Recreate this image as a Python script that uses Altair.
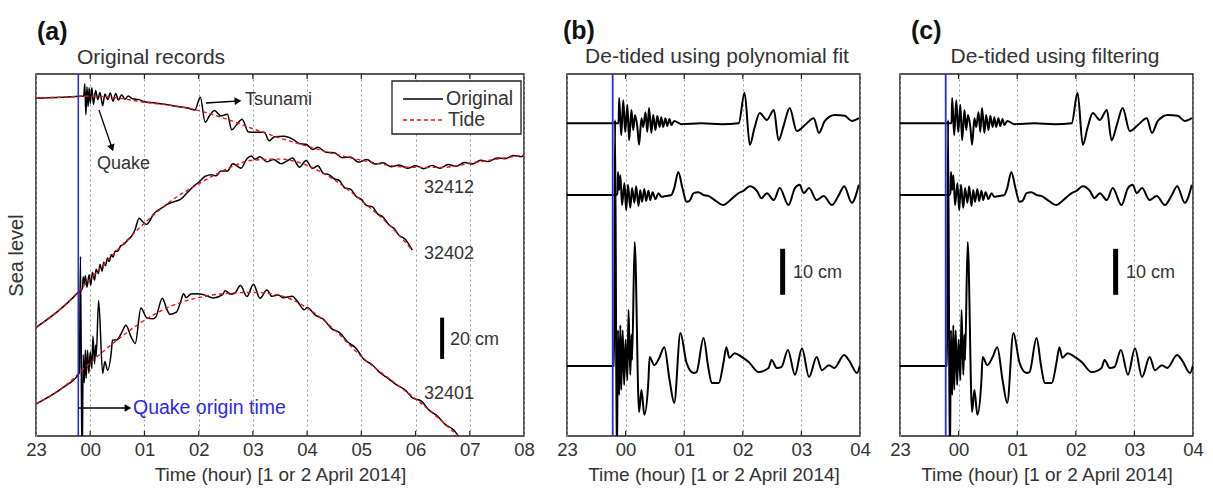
import altair as alt
import pandas as pd

FONT = "Liberation Sans"
INK = "#222222"
TXT = "#333333"
RED = "#e8141c"
BLUE = "#2a2ae6"

# ---------------- data (hours after 00:00 UTC 2 April; -1 = 23:00) ----------------
HOURS_A = [-1, 0, 1, 2, 3, 4, 5, 6, 7, 8]
HOURS_BC = [-1, 0, 1, 2, 3, 4]
QUAKE_T = -0.22

# panel (a): sea level (cm, stacked offsets)
A_32412_TIDE = [(-1, 167.6), (-0.5, 168), (0, 168.5), (0.5, 167.6), (1, 165.5), (1.5, 164), (2, 161.5),
                (2.5, 157.5), (3, 152.7), (3.5, 148.2), (4, 144.3), (4.5, 140.5), (5, 137.5), (5.5, 135),
                (6, 134), (6.5, 134), (7, 136), (7.5, 138), (8, 140)]
A_32412_ORIG = [(-1, 167.5), (-0.5, 168), (-0.2, 168.4), (-0.12, 168.5), (-0.10, 174.5), (-0.08, 159.5),
                (-0.06, 173), (-0.04, 163.5), (-0.02, 172.5), (0.0, 165), (0.03, 172.5), (0.06, 164.5),
                (0.10, 171.2), (0.14, 166.8), (0.18, 170.2), (0.23, 163.8), (0.27, 169.5), (0.32, 166.8),
                (0.37, 170), (0.42, 166), (0.47, 169.8), (0.52, 166.6), (0.58, 169.2), (0.64, 167),
                (0.70, 168.5), (0.78, 167.2), (0.9, 166.8), (1.0, 165.8), (1.2, 165.2), (1.4, 164.4),
                (1.6, 163.5), (1.8, 162.7), (1.93, 161.8), (2.03, 167.9), (2.12, 155.9), (2.20, 159),
                (2.29, 161.5), (2.41, 158.9), (2.53, 159.7), (2.61, 152.2), (2.70, 154.6), (2.80, 157.3),
                (2.92, 151.1), (3.06, 151), (3.21, 151), (3.30, 146.9), (3.40, 148.8), (3.57, 149.1),
                (3.74, 147.6), (3.86, 145.5), (3.98, 145.2), (4.1, 142.7), (4.2, 143.8), (4.35, 141.3),
                (4.5, 141.1), (4.65, 138.7), (4.8, 139), (4.95, 136.5), (5.1, 137.8), (5.25, 135.6),
                (5.4, 136.2), (5.55, 134.3), (5.7, 135.2), (5.85, 133.6), (6.0, 134.8), (6.15, 133.4),
                (6.3, 134.9), (6.45, 133.6), (6.6, 135.4), (6.75, 134.5), (6.9, 136.4), (7.05, 135.6),
                (7.2, 137.4), (7.35, 136.8), (7.5, 138.6), (7.65, 138.2), (7.8, 139.8), (7.95, 139.2),
                (8.0, 140)]
A_32402_TIDE = [(-1, 56.5), (-0.5, 66.5), (0, 80), (0.5, 94), (1, 107), (1.5, 118), (2, 126), (2.5, 133),
                (3, 137.5), (3.5, 138), (4, 135), (4.5, 128), (5, 118), (5.5, 106.5), (5.94, 94)]
A_32402_ORIG = [(-1, 56.5), (-0.5, 66.5), (-0.2, 74), (-0.14, 75.5), (-0.13, 81.1), (-0.11, 77.8),
                (-0.09, 81.6), (-0.06, 76), (-0.02, 82), (0.01, 77), (0.04, 83.3), (0.08, 79.5),
                (0.11, 84.7), (0.15, 82.6), (0.18, 87), (0.22, 83.8), (0.25, 88.1), (0.28, 86.4),
                (0.32, 90.2), (0.35, 88.4), (0.39, 91.8), (0.42, 90.6), (0.46, 93.5), (0.51, 93.4),
                (0.56, 96), (0.61, 96.6), (0.69, 98.8), (0.78, 101.3), (0.83, 104.1), (0.90, 109.4),
                (0.97, 107.7), (1.04, 106.4), (1.09, 107.8), (1.16, 111.1), (1.24, 113.1), (1.33, 114.5),
                (1.41, 116), (1.52, 117.2), (1.67, 118.6), (1.77, 121.2), (1.93, 125.4), (2.01, 127),
                (2.12, 129.7), (2.24, 130.4), (2.32, 129.9), (2.41, 132.2), (2.53, 132.2), (2.63, 135.8),
                (2.78, 133.6), (2.89, 138.2), (2.97, 139.5), (3.04, 137.9), (3.13, 139.1), (3.26, 136.7),
                (3.38, 137.8), (3.52, 135.8), (3.64, 137.3), (3.73, 138.5), (3.86, 134.1), (3.98, 137.3),
                (4.1, 133.5), (4.2, 134.8), (4.3, 131), (4.4, 130.5), (4.5, 128.5), (4.6, 127.5),
                (4.7, 124), (4.8, 123.5), (4.9, 120), (5.0, 118.5), (5.1, 115.5), (5.2, 115), (5.3, 111.5),
                (5.4, 110), (5.5, 106.5), (5.6, 104.5), (5.7, 101), (5.8, 99.5), (5.94, 94)]
A_32401_TIDE = [(-1, 19.5), (-0.5, 27.5), (0, 39.5), (0.5, 50.5), (1, 60), (1.5, 67), (2, 71), (2.5, 73),
                (3, 73.5), (3.5, 72), (4, 66), (4.5, 55.5), (5, 42.5), (5.5, 32), (6, 22), (6.5, 10.8),
                (6.8, 3.5)]
A_32401_ORIG = [(-1, 19.5), (-0.5, 27.5), (-0.2, 34.5), (-0.18, 91), (-0.15, -15), (-0.13, 43.4), (-0.11, 29.8),
                (-0.09, 45.6), (-0.075, 31.9), (-0.05, 45.5), (-0.025, 34.3), (0, 44.7), (0.03, 36.7),
                (0.05, 52.4), (0.08, 38.9), (0.10, 48.1), (0.11, 42.8), (0.155, 69.6), (0.23, 34.3),
                (0.27, 40), (0.32, 35.8), (0.39, 45), (0.41, 50.4), (0.49, 50.5), (0.575, 53.8),
                (0.66, 57.6), (0.75, 52.2), (0.83, 48.8), (0.935, 66), (1.04, 61.3), (1.16, 60.7),
                (1.21, 61.6), (1.33, 70.7), (1.41, 65.5), (1.47, 62.9), (1.59, 64), (1.67, 69.1),
                (1.72, 72.9), (1.77, 71), (1.86, 72.7), (1.98, 72.9), (2.10, 72.3), (2.27, 70.8),
                (2.44, 72.4), (2.49, 74.3), (2.58, 72.7), (2.66, 73), (2.77, 76.8), (2.89, 71.5),
                (3.01, 77.4), (3.13, 70.7), (3.26, 74.7), (3.35, 71.6), (3.47, 72.3), (3.56, 70.9),
                (3.73, 71.6), (3.81, 69.6), (3.95, 65.1), (4.0, 66.2), (4.15, 62.5), (4.3, 60.5),
                (4.45, 56), (4.6, 54), (4.75, 49.5), (4.9, 46.5), (5.05, 41), (5.2, 38.5), (5.35, 34.5),
                (5.5, 31.8), (5.65, 28.7), (5.8, 26.5), (5.95, 22.3), (6.1, 21), (6.25, 16.5), (6.4, 13.8),
                (6.55, 9.5), (6.7, 7), (6.85, 1.5)]

# panels (b) and (c): de-tided records (cm, stacked offsets)
B_32412 = [(-1, 68.0), (-0.5, 68.0), (-0.12, 68.0), (-0.11, 73.5), (-0.075, 65.4), (-0.04, 73.0),
           (-0.007, 66.1), (0.03, 72.0), (0.06, 64.3), (0.10, 70.9), (0.13, 66.5), (0.16, 69.8),
           (0.20, 67.2), (0.23, 63.3), (0.27, 69.1), (0.30, 67.2), (0.34, 70.4), (0.37, 66.1),
           (0.40, 71.3), (0.44, 65.9), (0.47, 69.8), (0.51, 66.5), (0.54, 69.6), (0.58, 67.2),
           (0.61, 69.3), (0.64, 67.2), (0.68, 69.1), (0.71, 67.4), (0.75, 68.9), (0.78, 67.6),
           (0.83, 68.5), (0.95, 67.8), (1.29, 68.0), (1.64, 67.8), (1.93, 68.0), (2.03, 74.6),
           (2.12, 63.3), (2.20, 67.0), (2.29, 70.2), (2.41, 68.7), (2.53, 70.9), (2.61, 64.3),
           (2.70, 67.6), (2.80, 71.3), (2.92, 66.3), (3.06, 67.6), (3.21, 69.1), (3.30, 65.9),
           (3.40, 68.5), (3.57, 69.8), (3.74, 69.6), (3.86, 68.5), (3.98, 69.1)]
B_32402 = [(-1, 52.4), (-0.5, 52.4), (-0.16, 52.4), (-0.14, 52.8), (-0.13, 57.4), (-0.11, 53.5),
           (-0.09, 56.7), (-0.06, 50.2), (-0.02, 55.0), (0.01, 49.1), (0.04, 54.6), (0.08, 49.6),
           (0.11, 53.9), (0.15, 50.7), (0.18, 54.3), (0.22, 50.0), (0.25, 53.5), (0.28, 50.9),
           (0.32, 53.7), (0.35, 51.1), (0.39, 53.3), (0.42, 51.3), (0.46, 53.0), (0.51, 51.5),
           (0.56, 52.8), (0.61, 52.0), (0.69, 52.2), (0.78, 52.4), (0.83, 53.9), (0.90, 57.4),
           (0.97, 53.9), (1.04, 50.9), (1.09, 51.1), (1.16, 52.8), (1.24, 53.0), (1.33, 52.4),
           (1.41, 52.2), (1.52, 51.3), (1.67, 50.2), (1.77, 51.1), (1.93, 52.8), (2.01, 53.3),
           (2.12, 54.3), (2.24, 53.3), (2.32, 51.7), (2.41, 52.8), (2.53, 51.3), (2.63, 53.9),
           (2.78, 50.2), (2.89, 53.9), (2.97, 54.6), (3.04, 52.8), (3.13, 53.9), (3.26, 51.3),
           (3.38, 52.2), (3.52, 50.2), (3.64, 52.4), (3.73, 54.3), (3.86, 50.7), (3.98, 54.6)]
B_32401 = [(-1, 15.2), (-0.5, 15.2), (-0.195, 15.2), (-0.18, 68.7), (-0.15, -7.4), (-0.13, 23.0),
           (-0.11, 8.9), (-0.09, 24.1), (-0.075, 10.0), (-0.05, 23.0), (-0.025, 11.1), (0.0, 20.9),
           (0.03, 12.2), (0.05, 27.4), (0.08, 13.3), (0.10, 22.0), (0.11, 16.5), (0.155, 42.2),
           (0.23, 5.2), (0.27, 10.0), (0.32, 4.6), (0.39, 12.2), (0.41, 17.2), (0.49, 15.4),
           (0.575, 17.0), (0.66, 19.3), (0.75, 12.2), (0.83, 7.2), (0.935, 22.4), (1.04, 15.9),
           (1.16, 13.7), (1.21, 13.9), (1.33, 21.3), (1.41, 15.0), (1.47, 11.5), (1.59, 11.5),
           (1.67, 15.9), (1.72, 19.3), (1.77, 17.0), (1.86, 18.0), (1.98, 17.2), (2.10, 16.1),
           (2.27, 13.9), (2.44, 14.8), (2.49, 16.5), (2.58, 14.8), (2.66, 15.0), (2.77, 18.7),
           (2.89, 13.3), (3.01, 19.1), (3.13, 12.8), (3.26, 17.2), (3.35, 14.3), (3.47, 15.4),
           (3.56, 14.8), (3.73, 17.6), (3.81, 16.5), (3.95, 13.7), (4.0, 15.4)]

# scale bars (cm)
A_BAR = {"t": 6.49, "v": 41.3, "v2": 61.3}   # 20 cm
BC_BAR = {"t": 2.68, "v": 30.7, "v2": 40.7}  # 10 cm

# ---------------- helpers ----------------
def df(pairs, name):
    return pd.DataFrame({"t": [p[0] for p in pairs], "v": [p[1] for p in pairs], "s": name})

ONE = alt.Data(values=[{"k": 0}])


def text_at(txt, x, y, size=18, color=TXT, weight="normal", align="left"):
    return alt.Chart(ONE).mark_text(text=txt, fontSize=size, color=color, fontWeight=weight,
                                    align=align, baseline="middle", font=FONT).encode(
        x=alt.value(x), y=alt.value(y))


def arrow(x1, y1, x2, y2, angle, color="black"):
    line = alt.Chart(ONE).mark_rule(color=color, strokeWidth=1.3).encode(
        x=alt.value(x1), x2=alt.value(x2), y=alt.value(y1), y2=alt.value(y2))
    head = alt.Chart(ONE).mark_point(shape="triangle-right", filled=True, size=60, angle=angle,
                                     color=color, opacity=1).encode(x=alt.value(x2), y=alt.value(y2))
    return line + head


def x_enc(hours):
    return alt.X("t:Q", scale=alt.Scale(domain=[hours[0], hours[-1]], nice=False, zero=False),
                 axis=alt.Axis(values=hours, labelExpr="datum.value < 0 ? '23' : '0' + datum.value",
                               title="Time (hour) [1 or 2 April 2014]", grid=True, gridDash=[2, 3],
                               gridColor="#9a9a9a", gridWidth=1, ticks=False, domain=False,
                               labelFontSize=18.5, titleFontSize=19, labelPadding=4, titlePadding=7,
                               labelColor=TXT, titleColor=TXT, titleFontWeight="normal",
                               labelFlush=False, labelOverlap=False))


def inner_ticks(hours, X, H):
    d = pd.DataFrame({"t": hours[1:-1]})
    top = alt.Chart(d).mark_rule(color=INK, strokeWidth=1.2).encode(x=X, y=alt.value(0), y2=alt.value(5))
    bot = alt.Chart(d).mark_rule(color=INK, strokeWidth=1.2).encode(x=X, y=alt.value(H), y2=alt.value(H - 5))
    return top + bot


H = 362

# ---------------- panel (a) ----------------
XA = x_enc(HOURS_A)
YA = alt.Y("v:Q", scale=alt.Scale(domain=[4, 179.2], nice=False, zero=False),
           axis=alt.Axis(title="Sea level", labels=False, ticks=False, domain=False, grid=False,
                         titleFontSize=20, titleFontWeight="normal", titleColor=TXT, titlePadding=10,
                         minExtent=0))

orig_a = pd.concat([df(A_32412_ORIG, "32412"), df(A_32402_ORIG, "32402"), df(A_32401_ORIG, "32401")])
tide_a = pd.concat([df(A_32412_TIDE, "32412"), df(A_32402_TIDE, "32402"), df(A_32401_TIDE, "32401")])

la = [
    inner_ticks(HOURS_A, XA, H),
    alt.Chart(orig_a).mark_line(color="black", strokeWidth=1.5, interpolate="monotone", clip=True).encode(
        x=XA, y=YA, detail="s:N"),
    alt.Chart(tide_a).mark_line(color=RED, strokeDash=[4, 3], strokeWidth=1.4, interpolate="monotone",
                                clip=True).encode(x=XA, y=YA, detail="s:N"),
    alt.Chart(pd.DataFrame({"t": [QUAKE_T]})).mark_rule(color=BLUE, strokeWidth=1.6).encode(x=XA),
    alt.Chart(pd.DataFrame([A_BAR])).mark_rule(color="black", strokeWidth=4).encode(x=XA, y=YA, y2="v2:Q"),
    text_at("20 cm", 414, 266),
    # legend
    alt.Chart(ONE).mark_rect(fill="white", stroke=INK, strokeWidth=1.3).encode(
        x=alt.value(356), x2=alt.value(485), y=alt.value(7), y2=alt.value(60)),
    alt.Chart(ONE).mark_rule(color="black", strokeWidth=1.4).encode(
        x=alt.value(367), x2=alt.value(407), y=alt.value(25)),
    alt.Chart(ONE).mark_rule(color=RED, strokeWidth=1.4, strokeDash=[4, 3]).encode(
        x=alt.value(367), x2=alt.value(407), y=alt.value(46)),
    text_at("Original", 410, 25, size=19.5),
    text_at("Tide", 412, 46, size=19.5),
    # annotations
    text_at("Tsunami", 209, 26),
    arrow(170, 29, 202, 27, 356),
    text_at("Quake", 61, 90),
    arrow(63, 36, 76, 74, 71),
    text_at("Quake origin time", 97, 334, size=19.5, color=BLUE),
    arrow(42, 334, 92, 334, 0),
    text_at("32412", 388, 114),
    text_at("32402", 388, 180),
    text_at("32401", 388, 320),
    text_at("Original records", 115, -16, size=21, align="center"),
    text_at("(a)", 1, -42, size=25, weight="bold", color="#111111"),
]
pa = alt.layer(*la).properties(width=488, height=H)

# ---------------- panels (b) and (c) ----------------
XB = x_enc(HOURS_BC)
YB = alt.Y("v:Q", scale=alt.Scale(domain=[0, 78.7], nice=False, zero=False), axis=None)
det = pd.concat([df(B_32412, "32412"), df(B_32402, "32402"), df(B_32401, "32401")])


def detided_panel(title, title_x, letter, letter_x):
    layers = [
        inner_ticks(HOURS_BC, XB, H),
        alt.Chart(det).mark_line(color="black", strokeWidth=2, interpolate="monotone", clip=True).encode(
            x=XB, y=YB, detail="s:N"),
        alt.Chart(pd.DataFrame({"t": [QUAKE_T]})).mark_rule(color=BLUE, strokeWidth=1.8).encode(x=XB),
        alt.Chart(pd.DataFrame([BC_BAR])).mark_rule(color="black", strokeWidth=5).encode(x=XB, y=YB, y2="v2:Q"),
        text_at("10 cm", 226, 199),
        text_at(title, title_x, -17, size=21, align="center"),
        text_at(letter, letter_x, -43, size=25, weight="bold", color="#111111"),
    ]
    return alt.layer(*layers).properties(width=293, height=H)


pb = detided_panel("De-tided using polynomial fit", 150, "(b)", -4)
pc = detided_panel("De-tided using filtering", 155, "(c)", 11)

inner = alt.hconcat(pb, pc, spacing=40, bounds="flush")
chart = alt.hconcat(pa, inner, spacing=43, bounds="flush").properties(
    padding={"left": 5, "top": 18, "right": 5, "bottom": 5}
).configure(font=FONT).configure_view(stroke=INK, strokeWidth=1.5)

chart.save("out.html", embed_options={"renderer": "svg", "actions": False})
